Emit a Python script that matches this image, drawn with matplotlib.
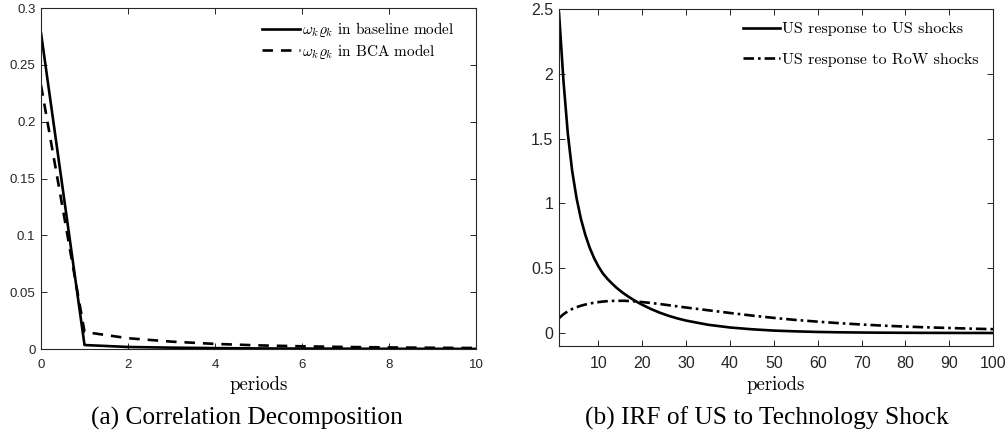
import numpy as np
import matplotlib
matplotlib.use("Agg")
import matplotlib.pyplot as plt
from matplotlib.ticker import FuncFormatter

plt.rcParams["mathtext.fontset"] = "cm"
plt.rcParams["font.family"] = ["Liberation Sans", "DejaVu Sans"]

# (a) correlation decomposition
periods_a = [0, 1, 2, 3, 4, 5, 6, 7, 8, 9, 10]
baseline = [0.278, 0.0035, 0.0018, 0.0012, 0.0008, 0.0005, 0.0004, 0.0003, 0.0002, 0.0002, 0.0001]
bca = [0.232, 0.015, 0.0095, 0.0065, 0.0045, 0.0032, 0.0024, 0.0018, 0.0014, 0.0011, 0.0009]

# (b) IRF of US to technology shock
periods_b = [1, 2, 3, 4, 5, 6, 7, 8, 9, 10, 11, 12, 13, 14, 15, 16, 17, 18, 19, 20,
             22, 24, 26, 28, 30, 35, 40, 45, 50, 55, 60, 65, 70, 75, 80, 85, 90, 95, 100]
us_to_us = [2.47, 1.95, 1.54, 1.25, 1.04, 0.88, 0.757, 0.658, 0.578, 0.513, 0.46, 0.42,
            0.385, 0.353, 0.325, 0.30, 0.277, 0.256, 0.236, 0.218, 0.185, 0.157, 0.133,
            0.113, 0.096, 0.064, 0.043, 0.029, 0.019, 0.013, 0.0085, 0.0058, 0.004,
            0.0028, 0.002, 0.0014, 0.001, 0.0007, 0.0005]
us_to_row = [0.115, 0.145, 0.168, 0.186, 0.200, 0.211, 0.220, 0.228, 0.234, 0.239, 0.243,
             0.246, 0.248, 0.249, 0.249, 0.249, 0.247, 0.245, 0.242, 0.239, 0.232, 0.224,
             0.215, 0.206, 0.197, 0.176, 0.155, 0.135, 0.117, 0.101, 0.088, 0.076, 0.066,
             0.057, 0.050, 0.044, 0.039, 0.034, 0.030]

fig = plt.figure(figsize=(10.08, 4.36), dpi=100)
ax1 = fig.add_axes([0.0407, 0.1995, 0.4315, 0.782])
ax2 = fig.add_axes([0.5546, 0.2064, 0.4306, 0.7726])

fmt = FuncFormatter(lambda v, p: "%g" % round(v, 2))


def style(ax, size):
    ax.tick_params(direction="in", top=True, right=True, labelsize=size,
                   length=4, width=0.7, colors="#262626", pad=4)
    ax.tick_params(axis="x", pad=7)
    for s in ax.spines.values():
        s.set_linewidth(0.8)
        s.set_color("#262626")
    ax.yaxis.set_major_formatter(fmt)
    ax.set_xlabel("periods", fontdict={"family": "cmr10", "size": 13.5}, labelpad=4)


ax1.plot(periods_a, baseline, color="black", lw=1.9,
         label=r"$\omega_k\varrho_k$ in baseline model")
ax1.plot(periods_a, bca, color="black", lw=1.9, ls=(0, (4, 3)),
         label=r"$\omega_k\varrho_k$ in BCA model")
ax1.set_xlim(0, 10)
ax1.set_ylim(0, 0.3)
ax1.set_xticks(range(0, 11, 2))
ax1.set_yticks(np.arange(0, 0.31, 0.05))
style(ax1, 9.5)
ax1.legend(loc="upper right", bbox_to_anchor=(0.975, 0.995), frameon=False,
           prop={"family": "cmr10", "size": 11},
           handlelength=2.5, handletextpad=0.1, borderaxespad=0.5, labelspacing=0.15,
           borderpad=0.2)

ax2.plot(periods_b, us_to_us, color="black", lw=1.9, label="US response to US shocks")
ax2.plot(periods_b, us_to_row, color="black", lw=1.9, ls=(0, (4, 1.5, 1, 1.5)),
         label="US response to RoW shocks")
ax2.set_xlim(1, 100)
ax2.set_ylim(-0.1, 2.5)
ax2.set_xticks(range(10, 101, 10))
ax2.set_yticks(np.arange(0, 2.51, 0.5))
style(ax2, 11.5)
ax2.legend(loc="upper right", bbox_to_anchor=(0.984, 0.985), frameon=False,
           prop={"family": "cmr10", "size": 11.5},
           handlelength=2.3, handletextpad=0.1, borderaxespad=0.3, labelspacing=1.0,
           borderpad=0.2)

fig.text(0.245, 0.041, "(a) Correlation Decomposition", ha="center", va="center",
         family="Liberation Serif", fontsize=18.3)
fig.text(0.761, 0.041, "(b) IRF of US to Technology Shock", ha="center", va="center",
         family="Liberation Serif", fontsize=18.3)

fig.savefig("out.png", dpi=100)
